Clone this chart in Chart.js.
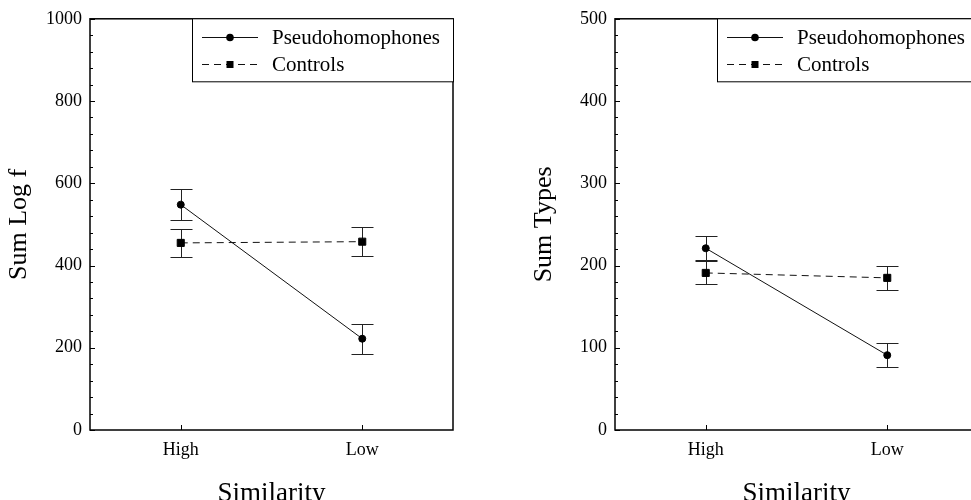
<!DOCTYPE html>
<html>
<head>
<meta charset="utf-8">
<script src="https://cdn.jsdelivr.net/npm/chart.js@4/dist/chart.umd.min.js"></script>
<style>
  html, body { margin: 0; padding: 0; background: #fff; }
  body { width: 971px; height: 500px; overflow: hidden; position: relative; }
  canvas { position: absolute; top: 0; }
  #logf { left: 0; }
  #types { left: 525px; }
</style>
</head>
<body>
<canvas id="logf" width="470" height="510"></canvas>
<canvas id="types" width="470" height="510"></canvas>
<script>
'use strict';

// values
const categories = ['High', 'Low'];

const pseudoLogF = [548, 222];
const pseudoLogFErr = [38, 36];
const controlsLogF = [455, 458];
const controlsLogFErr = [34, 35];

const pseudoTypes = [221, 91];
const pseudoTypesErr = [14.5, 14.5];
const controlsTypes = [191, 185];
const controlsTypesErr = [14, 14.3];

const SERIF = "'Liberation Serif', 'Times New Roman', serif";
Chart.defaults.font.family = SERIF;
Chart.defaults.color = '#000';

// error bars: drawn under the points, from each dataset's `errors` array
const errorBars = {
    id: 'errorBars',
    beforeDatasetsDraw(chart) {
        const { ctx, scales: { y } } = chart;
        ctx.save();
        ctx.strokeStyle = '#222';
        ctx.lineWidth = 1;
        chart.data.datasets.forEach((ds, i) => {
            const meta = chart.getDatasetMeta(i);
            meta.data.forEach((pt, j) => {
                const err = ds.errors[j];
                const x = Math.round(pt.x) + 0.5;
                const top = Math.round(y.getPixelForValue(ds.data[j] + err)) + 0.5;
                const bot = Math.round(y.getPixelForValue(ds.data[j] - err)) + 0.5;
                ctx.beginPath();
                ctx.moveTo(x, top); ctx.lineTo(x, bot);
                ctx.moveTo(x - 11, top); ctx.lineTo(x + 11, top);
                ctx.moveTo(x - 11, bot); ctx.lineTo(x + 11, bot);
                ctx.stroke();
            });
        });
        ctx.restore();
    },
};

// box frame + inward tick marks (major and minor), like the original plot
const frameTicks = {
    id: 'frameTicks',
    afterDraw(chart, args, opts) {
        const { ctx, chartArea: a, scales: { x, y } } = chart;
        ctx.save();
        ctx.strokeStyle = '#000';
        ctx.lineWidth = 1;
        ctx.beginPath();
        for (let v = y.min; v <= y.max; v += opts.minorStep) {
            const py = Math.round(y.getPixelForValue(v)) + 0.5;
            const len = v % opts.majorStep === 0 ? 5 : 3;
            ctx.moveTo(a.left, py); ctx.lineTo(a.left + len, py);
        }
        x.ticks.forEach((t, i) => {
            const px = Math.round(x.getPixelForTick(i)) + 0.5;
            ctx.moveTo(px, a.bottom); ctx.lineTo(px, a.bottom - 5);
        });
        ctx.stroke();
        ctx.lineWidth = 1.5;
        ctx.strokeRect(a.left, a.top, a.right - a.left, a.bottom - a.top);
        ctx.restore();
    },
};

// boxed legend in the upper right corner of the plot area
const boxLegend = {
    id: 'boxLegend',
    afterDraw(chart) {
        const { ctx, chartArea: a } = chart;
        const bx = a.left + 102;
        const by = a.top;
        ctx.save();
        ctx.fillStyle = '#fff';
        ctx.fillRect(bx, by, a.right - bx, 63);
        ctx.strokeStyle = '#000';
        ctx.lineWidth = 1;
        ctx.strokeRect(Math.round(bx) + 0.5, by, a.right - bx, 63);

        chart.data.datasets.forEach((ds, i) => {
            const ry = Math.round(by + 18 + i * 27) + 0.5;
            ctx.strokeStyle = ds.borderColor;
            ctx.lineWidth = 1;
            ctx.setLineDash(ds.borderDash || []);
            ctx.beginPath();
            ctx.moveTo(bx + 10, ry); ctx.lineTo(bx + 66, ry);
            ctx.stroke();
            ctx.setLineDash([]);
            ctx.fillStyle = '#000';
            const cx = bx + 38;
            if (ds.pointStyle === 'rect') {
                ctx.fillRect(cx - 3.5, ry - 3.5, 7, 7);
            } else {
                ctx.beginPath();
                ctx.arc(cx, ry, 3.8, 0, Math.PI * 2);
                ctx.fill();
            }
            ctx.font = '21px ' + SERIF;
            ctx.textBaseline = 'middle';
            ctx.fillText(ds.label, bx + 80, ry + 1);
        });
        ctx.restore();
    },
};

function series(label, values, errors, style) {
    return Object.assign({
        label: label,
        data: values,
        errors: errors,
        borderColor: '#111',
        borderWidth: 1,
        backgroundColor: '#000',
        pointBackgroundColor: '#000',
        pointBorderColor: '#000',
        pointBorderWidth: 1,
        tension: 0,
        fill: false,
    }, style);
}

function makePanel(canvasId, yTitle, yMax, majorStep, minorStep, pseudo, pseudoErr, controls, controlsErr) {
    return new Chart(document.getElementById(canvasId), {
        type: 'line',
        data: {
            labels: categories,
            datasets: [
                series('Pseudohomophones', pseudo, pseudoErr, { pointStyle: 'circle', pointRadius: 3.5 }),
                series('Controls', controls, controlsErr, { pointStyle: 'rect', pointRadius: 5, borderDash: [7, 5] }),
            ],
        },
        options: {
            responsive: false,
            animation: false,
            events: [],
            layout: { padding: { top: 15, right: 17, left: 0, bottom: 0 } },
            plugins: {
                legend: { display: false },
                tooltip: { enabled: false },
                frameTicks: { majorStep: majorStep, minorStep: minorStep },
            },
            scales: {
                x: {
                    type: 'category',
                    offset: true,
                    grid: { display: false, drawTicks: false },
                    border: { display: false },
                    ticks: { padding: 9, font: { size: 18 }, maxRotation: 0 },
                    title: { display: true, text: 'Similarity', font: { size: 27 }, padding: 0 },
                    afterFit(scale) { scale.height = 80; },
                },
                y: {
                    min: 0,
                    max: yMax,
                    grid: { display: false, drawTicks: false },
                    border: { display: false },
                    ticks: {
                        stepSize: majorStep,
                        padding: 8,
                        font: { size: 18 },
                        callback: (value) => String(value),
                    },
                    title: { display: true, text: yTitle, font: { size: 26 }, padding: { top: 4, bottom: 0 } },
                    afterFit(scale) { scale.width = 90; },
                },
            },
        },
        plugins: [errorBars, frameTicks, boxLegend],
    });
}

makePanel('logf', 'Sum Log f', 1000, 200, 40, pseudoLogF, pseudoLogFErr, controlsLogF, controlsLogFErr);
makePanel('types', 'Sum Types', 500, 100, 20, pseudoTypes, pseudoTypesErr, controlsTypes, controlsTypesErr);
</script>
</body>
</html>
